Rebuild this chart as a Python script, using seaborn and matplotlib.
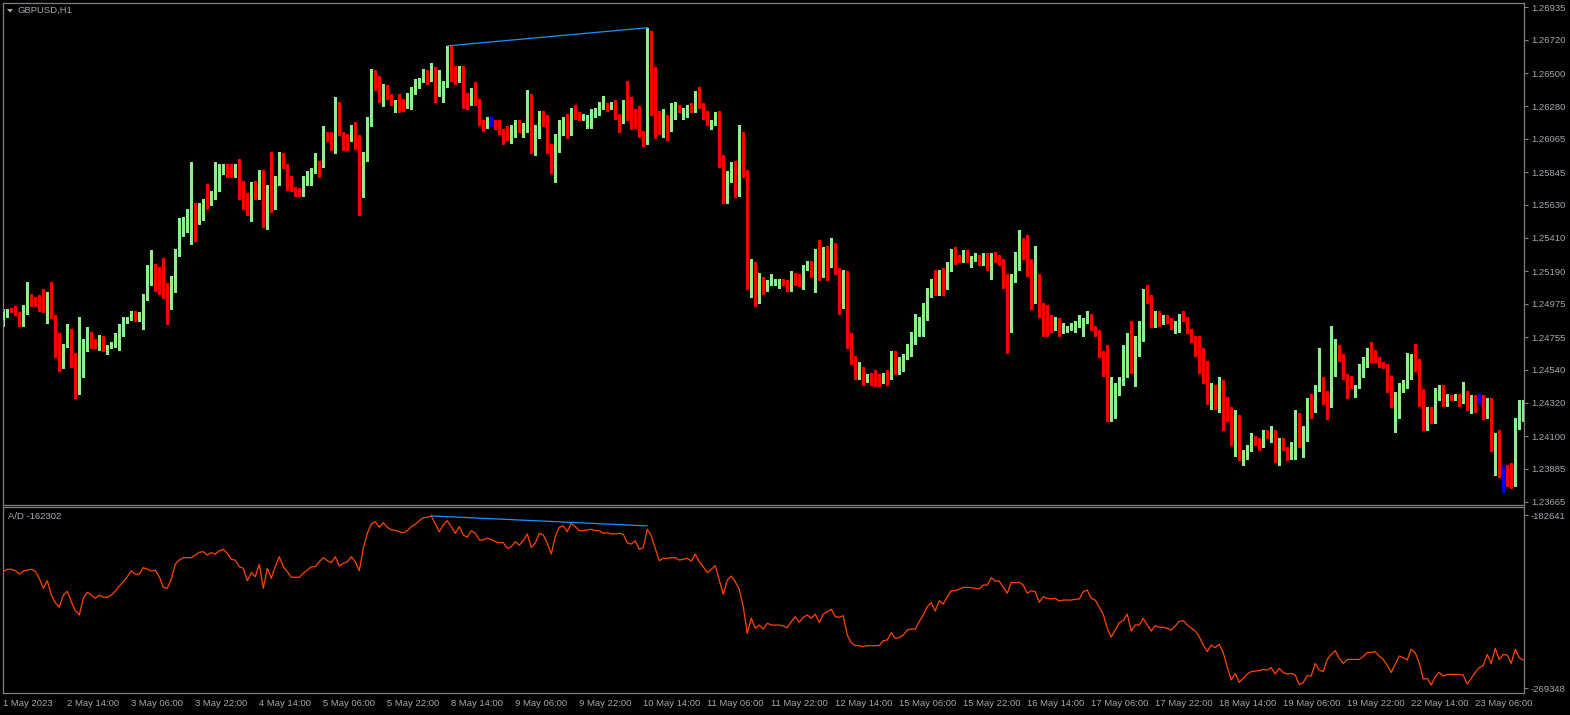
import numpy as np
import pandas as pd
import matplotlib
matplotlib.use("Agg")
import matplotlib.pyplot as plt
from matplotlib.patches import Polygon
import seaborn as sns

# GBPUSD H1 candles (one value per hourly bar)
opens = [
    1.2487, 1.2490, 1.2494, 1.2493, 1.2492, 1.2484, 1.2491, 1.2503, 1.2501, 1.2497,
    1.2496, 1.2493, 1.2503, 1.2489, 1.2471, 1.2461, 1.2470, 1.2480, 1.2458, 1.2443,
    1.2459, 1.2472, 1.2478, 1.2471, 1.2469, 1.2475, 1.2465, 1.2469, 1.2470, 1.2477,
    1.2481, 1.2486, 1.2488, 1.2492, 1.2487, 1.2489, 1.2501, 1.2511, 1.2519, 1.2517,
    1.2506, 1.2502, 1.2497, 1.2513, 1.2530, 1.2545, 1.2550, 1.2551, 1.2563, 1.2551,
    1.2554, 1.2566, 1.2565, 1.2568, 1.2576, 1.2584, 1.2587, 1.2584, 1.2582, 1.2585,
    1.2573, 1.2569, 1.2557, 1.2572, 1.2568, 1.2585, 1.2553, 1.2572, 1.2571, 1.2577,
    1.2595, 1.2589, 1.2579, 1.2573, 1.2573, 1.2571, 1.2581, 1.2583, 1.2585, 1.2591,
    1.2589, 1.2610, 1.2606, 1.2602, 1.2627, 1.2610, 1.2607, 1.2606, 1.2614, 1.2606,
    1.2571, 1.2597, 1.2616, 1.2648, 1.2647, 1.2634, 1.2641, 1.2635, 1.2628, 1.2630,
    1.2628, 1.2628, 1.2634, 1.2639, 1.2642, 1.2645, 1.2651, 1.2648, 1.2651, 1.2636,
    1.2637, 1.2642, 1.2663, 1.2651, 1.2645, 1.2653, 1.2632, 1.2630, 1.2639, 1.2632,
    1.2618, 1.2615, 1.2616, 1.2616, 1.2616, 1.2612, 1.2609, 1.2607, 1.2612, 1.2618,
    1.2612, 1.2614, 1.2635, 1.2602, 1.2608, 1.2624, 1.2620, 1.2601, 1.2586, 1.2608,
    1.2616, 1.2616, 1.2611, 1.2626, 1.2623, 1.2620, 1.2616, 1.2617, 1.2622, 1.2623,
    1.2627, 1.2629, 1.2627, 1.2631, 1.2622, 1.2618, 1.2626, 1.2623, 1.2622, 1.2622,
    1.2610, 1.2607, 1.2674, 1.2637, 1.2618, 1.2611, 1.2621, 1.2613, 1.2622, 1.2626,
    1.2621, 1.2622, 1.2628, 1.2625, 1.2637, 1.2629, 1.2622, 1.2617, 1.2617, 1.2623,
    1.2590, 1.2565, 1.2583, 1.2588, 1.2570, 1.2586, 1.2585, 1.2508, 1.2524, 1.2499,
    1.2513, 1.2507, 1.2511, 1.2511, 1.2509, 1.2513, 1.2512, 1.2507, 1.2517, 1.2516,
    1.2511, 1.2521, 1.2524, 1.2516, 1.2526, 1.2516, 1.2532, 1.2527, 1.2534, 1.2519,
    1.2505, 1.2510, 1.2470, 1.2462, 1.2451, 1.2455, 1.2447, 1.2451, 1.2453, 1.2450,
    1.2447, 1.2450, 1.2449, 1.2465, 1.2452, 1.2457, 1.2462, 1.2470, 1.2472, 1.2481,
    1.2487, 1.2493, 1.2506, 1.2511, 1.2507, 1.2517, 1.2508, 1.2523, 1.2532, 1.2529,
    1.2528, 1.2532, 1.2523, 1.2527, 1.2529, 1.2524, 1.2530, 1.2524, 1.2530, 1.2527,
    1.2526, 1.2510, 1.2480, 1.2513, 1.2521, 1.2535, 1.2533, 1.2518, 1.2513, 1.2515,
    1.2496, 1.2492, 1.2486, 1.2483, 1.2486, 1.2479, 1.2480, 1.2481, 1.2483, 1.2484,
    1.2485, 1.2487, 1.2490, 1.2481, 1.2478, 1.2464, 1.2453, 1.2421, 1.2426, 1.2441,
    1.2448, 1.2460, 1.2470, 1.2453, 1.2465, 1.2474, 1.2504, 1.2502, 1.2483, 1.2492,
    1.2485, 1.2487, 1.2487, 1.2482, 1.2484, 1.2489, 1.2487, 1.2480, 1.2474, 1.2468,
    1.2460, 1.2450, 1.2437, 1.2443, 1.2433, 1.2443, 1.2424, 1.2422, 1.2406, 1.2421,
    1.2395, 1.2398, 1.2402, 1.2409, 1.2408, 1.2404, 1.2413, 1.2411, 1.2413, 1.2397,
    1.2407, 1.2402, 1.2396, 1.2402, 1.2410, 1.2406, 1.2408, 1.2431, 1.2430, 1.2443,
    1.2448, 1.2439, 1.2436, 1.2460, 1.2467, 1.2463, 1.2450, 1.2449, 1.2437, 1.2443,
    1.2450, 1.2460, 1.2467, 1.2466, 1.2461, 1.2458, 1.2457, 1.2441, 1.2432, 1.2433,
    1.2441, 1.2443, 1.2449, 1.2463, 1.2460, 1.2435, 1.2419, 1.2422, 1.2420, 1.2439,
    1.2443, 1.2431, 1.2436, 1.2435, 1.2437, 1.2433, 1.2439, 1.2428, 1.2436, 1.2436,
    1.2436, 1.2430, 1.2434, 1.2409, 1.2409, 1.2385, 1.2386, 1.2384, 1.2378, 1.2416,
    1.2421,
]
highs = [
    1.2494, 1.2494, 1.2495, 1.2496, 1.2492, 1.2497, 1.2512, 1.2504, 1.2502, 1.2503,
    1.2507, 1.2505, 1.2512, 1.2490, 1.2478, 1.2471, 1.2484, 1.2481, 1.2465, 1.2489,
    1.2474, 1.2482, 1.2479, 1.2474, 1.2477, 1.2476, 1.2470, 1.2472, 1.2478, 1.2484,
    1.2489, 1.2489, 1.2493, 1.2493, 1.2492, 1.2504, 1.2523, 1.2533, 1.2524, 1.2522,
    1.2528, 1.2511, 1.2516, 1.2534, 1.2554, 1.2555, 1.2560, 1.2591, 1.2564, 1.2564,
    1.2567, 1.2577, 1.2572, 1.2591, 1.2590, 1.2590, 1.2590, 1.2590, 1.2590, 1.2593,
    1.2579, 1.2571, 1.2578, 1.2579, 1.2586, 1.2586, 1.2576, 1.2598, 1.2582, 1.2598,
    1.2597, 1.2590, 1.2582, 1.2575, 1.2574, 1.2582, 1.2585, 1.2587, 1.2597, 1.2592,
    1.2615, 1.2611, 1.2611, 1.2634, 1.2631, 1.2611, 1.2610, 1.2616, 1.2618, 1.2609,
    1.2598, 1.2621, 1.2653, 1.2652, 1.2648, 1.2643, 1.2642, 1.2636, 1.2632, 1.2636,
    1.2633, 1.2637, 1.2641, 1.2646, 1.2647, 1.2653, 1.2652, 1.2657, 1.2654, 1.2652,
    1.2645, 1.2668, 1.2668, 1.2655, 1.2655, 1.2655, 1.2637, 1.2640, 1.2644, 1.2633,
    1.2619, 1.2621, 1.2621, 1.2619, 1.2619, 1.2613, 1.2615, 1.2616, 1.2619, 1.2619,
    1.2617, 1.2639, 1.2636, 1.2616, 1.2625, 1.2625, 1.2622, 1.2603, 1.2610, 1.2619,
    1.2621, 1.2623, 1.2627, 1.2629, 1.2624, 1.2623, 1.2622, 1.2626, 1.2627, 1.2631,
    1.2635, 1.2630, 1.2631, 1.2632, 1.2623, 1.2632, 1.2645, 1.2634, 1.2626, 1.2628,
    1.2612, 1.2680, 1.2678, 1.2654, 1.2625, 1.2626, 1.2622, 1.2630, 1.2631, 1.2629,
    1.2627, 1.2629, 1.2630, 1.2638, 1.2641, 1.2630, 1.2625, 1.2619, 1.2624, 1.2625,
    1.2596, 1.2585, 1.2591, 1.2592, 1.2616, 1.2611, 1.2586, 1.2527, 1.2525, 1.2518,
    1.2515, 1.2513, 1.2517, 1.2514, 1.2514, 1.2514, 1.2513, 1.2519, 1.2518, 1.2517,
    1.2523, 1.2526, 1.2526, 1.2534, 1.2540, 1.2535, 1.2536, 1.2541, 1.2538, 1.2521,
    1.2520, 1.2519, 1.2478, 1.2463, 1.2459, 1.2456, 1.2451, 1.2452, 1.2454, 1.2451,
    1.2452, 1.2454, 1.2466, 1.2466, 1.2462, 1.2464, 1.2471, 1.2479, 1.2491, 1.2489,
    1.2498, 1.2508, 1.2514, 1.2520, 1.2520, 1.2521, 1.2525, 1.2534, 1.2535, 1.2530,
    1.2533, 1.2533, 1.2529, 1.2531, 1.2530, 1.2531, 1.2531, 1.2531, 1.2532, 1.2530,
    1.2527, 1.2517, 1.2517, 1.2532, 1.2546, 1.2541, 1.2543, 1.2527, 1.2536, 1.2517,
    1.2498, 1.2497, 1.2490, 1.2489, 1.2488, 1.2485, 1.2483, 1.2485, 1.2486, 1.2490,
    1.2488, 1.2493, 1.2491, 1.2483, 1.2480, 1.2466, 1.2470, 1.2449, 1.2445, 1.2449,
    1.2470, 1.2478, 1.2486, 1.2476, 1.2486, 1.2507, 1.2510, 1.2503, 1.2493, 1.2493,
    1.2490, 1.2490, 1.2488, 1.2486, 1.2491, 1.2493, 1.2489, 1.2481, 1.2476, 1.2476,
    1.2468, 1.2460, 1.2445, 1.2444, 1.2449, 1.2447, 1.2436, 1.2429, 1.2427, 1.2424,
    1.2401, 1.2404, 1.2412, 1.2410, 1.2409, 1.2414, 1.2414, 1.2417, 1.2414, 1.2409,
    1.2409, 1.2403, 1.2406, 1.2427, 1.2425, 1.2417, 1.2435, 1.2438, 1.2444, 1.2468,
    1.2449, 1.2440, 1.2483, 1.2474, 1.2470, 1.2464, 1.2451, 1.2450, 1.2444, 1.2458,
    1.2462, 1.2468, 1.2472, 1.2467, 1.2462, 1.2459, 1.2458, 1.2450, 1.2439, 1.2445,
    1.2447, 1.2465, 1.2464, 1.2471, 1.2461, 1.2441, 1.2429, 1.2429, 1.2442, 1.2444,
    1.2444, 1.2438, 1.2437, 1.2438, 1.2438, 1.2446, 1.2440, 1.2437, 1.2437, 1.2438,
    1.2437, 1.2435, 1.2435, 1.2412, 1.2414, 1.2390, 1.2391, 1.2392, 1.2422, 1.2434,
    1.2434,
]
lows = [
    1.2483, 1.2489, 1.2492, 1.2490, 1.2483, 1.2483, 1.2491, 1.2496, 1.2496, 1.2493,
    1.2492, 1.2485, 1.2488, 1.2462, 1.2453, 1.2455, 1.2469, 1.2456, 1.2435, 1.2438,
    1.2449, 1.2466, 1.2468, 1.2468, 1.2467, 1.2466, 1.2464, 1.2468, 1.2469, 1.2467,
    1.2476, 1.2485, 1.2487, 1.2486, 1.2486, 1.2481, 1.2500, 1.2510, 1.2506, 1.2504,
    1.2501, 1.2484, 1.2494, 1.2505, 1.2529, 1.2542, 1.2545, 1.2537, 1.2539, 1.2550,
    1.2553, 1.2560, 1.2563, 1.2567, 1.2572, 1.2583, 1.2581, 1.2581, 1.2581, 1.2567,
    1.2560, 1.2556, 1.2552, 1.2567, 1.2567, 1.2548, 1.2547, 1.2558, 1.2560, 1.2576,
    1.2587, 1.2573, 1.2572, 1.2569, 1.2569, 1.2569, 1.2576, 1.2576, 1.2584, 1.2581,
    1.2588, 1.2605, 1.2599, 1.2597, 1.2609, 1.2599, 1.2599, 1.2605, 1.2600, 1.2556,
    1.2568, 1.2592, 1.2615, 1.2639, 1.2631, 1.2628, 1.2633, 1.2629, 1.2624, 1.2624,
    1.2625, 1.2627, 1.2626, 1.2636, 1.2640, 1.2644, 1.2643, 1.2645, 1.2631, 1.2635,
    1.2631, 1.2641, 1.2645, 1.2643, 1.2644, 1.2627, 1.2626, 1.2629, 1.2629, 1.2616,
    1.2612, 1.2614, 1.2615, 1.2613, 1.2610, 1.2603, 1.2606, 1.2604, 1.2608, 1.2611,
    1.2608, 1.2611, 1.2597, 1.2596, 1.2607, 1.2615, 1.2597, 1.2584, 1.2578, 1.2598,
    1.2609, 1.2607, 1.2609, 1.2620, 1.2619, 1.2619, 1.2614, 1.2614, 1.2621, 1.2622,
    1.2626, 1.2625, 1.2626, 1.2620, 1.2611, 1.2617, 1.2619, 1.2613, 1.2614, 1.2608,
    1.2602, 1.2603, 1.2622, 1.2607, 1.2610, 1.2608, 1.2606, 1.2612, 1.2620, 1.2624,
    1.2620, 1.2621, 1.2624, 1.2624, 1.2627, 1.2620, 1.2616, 1.2613, 1.2616, 1.2588,
    1.2564, 1.2564, 1.2578, 1.2568, 1.2569, 1.2581, 1.2507, 1.2502, 1.2496, 1.2498,
    1.2504, 1.2506, 1.2510, 1.2510, 1.2508, 1.2510, 1.2506, 1.2506, 1.2510, 1.2509,
    1.2507, 1.2520, 1.2515, 1.2505, 1.2513, 1.2515, 1.2513, 1.2522, 1.2517, 1.2491,
    1.2495, 1.2468, 1.2458, 1.2448, 1.2448, 1.2444, 1.2446, 1.2444, 1.2443, 1.2443,
    1.2445, 1.2444, 1.2448, 1.2451, 1.2451, 1.2453, 1.2461, 1.2463, 1.2471, 1.2476,
    1.2476, 1.2487, 1.2502, 1.2503, 1.2503, 1.2503, 1.2507, 1.2519, 1.2524, 1.2525,
    1.2525, 1.2525, 1.2522, 1.2526, 1.2523, 1.2523, 1.2520, 1.2514, 1.2525, 1.2523,
    1.2508, 1.2465, 1.2479, 1.2512, 1.2520, 1.2527, 1.2516, 1.2494, 1.2498, 1.2489,
    1.2476, 1.2476, 1.2479, 1.2480, 1.2476, 1.2478, 1.2479, 1.2480, 1.2479, 1.2482,
    1.2476, 1.2485, 1.2480, 1.2476, 1.2462, 1.2450, 1.2420, 1.2420, 1.2422, 1.2437,
    1.2444, 1.2449, 1.2452, 1.2443, 1.2463, 1.2473, 1.2498, 1.2482, 1.2482, 1.2483,
    1.2484, 1.2485, 1.2481, 1.2478, 1.2479, 1.2486, 1.2478, 1.2472, 1.2463, 1.2452,
    1.2445, 1.2431, 1.2428, 1.2428, 1.2426, 1.2414, 1.2420, 1.2404, 1.2397, 1.2394,
    1.2391, 1.2395, 1.2400, 1.2404, 1.2401, 1.2403, 1.2409, 1.2406, 1.2393, 1.2391,
    1.2401, 1.2394, 1.2395, 1.2395, 1.2403, 1.2396, 1.2407, 1.2422, 1.2426, 1.2440,
    1.2431, 1.2421, 1.2429, 1.2450, 1.2460, 1.2448, 1.2435, 1.2442, 1.2436, 1.2442,
    1.2449, 1.2456, 1.2459, 1.2459, 1.2456, 1.2455, 1.2439, 1.2429, 1.2413, 1.2422,
    1.2439, 1.2442, 1.2448, 1.2453, 1.2430, 1.2414, 1.2414, 1.2419, 1.2419, 1.2434,
    1.2430, 1.2430, 1.2434, 1.2434, 1.2430, 1.2432, 1.2427, 1.2425, 1.2426, 1.2432,
    1.2421, 1.2422, 1.2400, 1.2384, 1.2383, 1.2373, 1.2377, 1.2376, 1.2377, 1.2415,
    1.2420,
]
closes = [
    1.2492, 1.2493, 1.2493, 1.2491, 1.2484, 1.2492, 1.2503, 1.2500, 1.2497, 1.2496,
    1.2493, 1.2502, 1.2489, 1.2471, 1.2461, 1.2470, 1.2480, 1.2458, 1.2442, 1.2460,
    1.2473, 1.2478, 1.2471, 1.2469, 1.2475, 1.2467, 1.2469, 1.2470, 1.2477, 1.2482,
    1.2487, 1.2488, 1.2492, 1.2487, 1.2489, 1.2501, 1.2511, 1.2520, 1.2516, 1.2505,
    1.2502, 1.2496, 1.2513, 1.2531, 1.2545, 1.2550, 1.2554, 1.2563, 1.2551, 1.2563,
    1.2566, 1.2565, 1.2569, 1.2577, 1.2585, 1.2587, 1.2583, 1.2582, 1.2586, 1.2573,
    1.2569, 1.2557, 1.2572, 1.2568, 1.2585, 1.2552, 1.2572, 1.2571, 1.2577, 1.2595,
    1.2588, 1.2578, 1.2573, 1.2572, 1.2571, 1.2581, 1.2583, 1.2585, 1.2591, 1.2589,
    1.2610, 1.2606, 1.2602, 1.2627, 1.2610, 1.2606, 1.2606, 1.2614, 1.2605, 1.2571,
    1.2597, 1.2616, 1.2648, 1.2647, 1.2634, 1.2641, 1.2634, 1.2630, 1.2630, 1.2627,
    1.2627, 1.2634, 1.2640, 1.2642, 1.2645, 1.2651, 1.2648, 1.2651, 1.2636, 1.2638,
    1.2643, 1.2663, 1.2650, 1.2645, 1.2653, 1.2631, 1.2630, 1.2639, 1.2631, 1.2618,
    1.2615, 1.2620, 1.2616, 1.2615, 1.2611, 1.2608, 1.2607, 1.2612, 1.2618, 1.2612,
    1.2615, 1.2635, 1.2601, 1.2609, 1.2624, 1.2618, 1.2600, 1.2586, 1.2608, 1.2616,
    1.2617, 1.2611, 1.2626, 1.2622, 1.2620, 1.2622, 1.2618, 1.2623, 1.2624, 1.2628,
    1.2628, 1.2627, 1.2630, 1.2621, 1.2618, 1.2626, 1.2622, 1.2622, 1.2621, 1.2609,
    1.2607, 1.2673, 1.2637, 1.2617, 1.2611, 1.2621, 1.2613, 1.2622, 1.2626, 1.2625,
    1.2623, 1.2628, 1.2625, 1.2637, 1.2628, 1.2621, 1.2617, 1.2618, 1.2623, 1.2589,
    1.2565, 1.2583, 1.2588, 1.2570, 1.2586, 1.2585, 1.2508, 1.2524, 1.2499, 1.2513,
    1.2507, 1.2512, 1.2512, 1.2513, 1.2511, 1.2511, 1.2507, 1.2518, 1.2516, 1.2510,
    1.2522, 1.2524, 1.2517, 1.2526, 1.2516, 1.2532, 1.2527, 1.2534, 1.2519, 1.2505,
    1.2510, 1.2470, 1.2462, 1.2451, 1.2455, 1.2447, 1.2450, 1.2447, 1.2447, 1.2447,
    1.2451, 1.2449, 1.2465, 1.2452, 1.2457, 1.2463, 1.2470, 1.2473, 1.2481, 1.2488,
    1.2494, 1.2507, 1.2511, 1.2507, 1.2517, 1.2508, 1.2524, 1.2533, 1.2529, 1.2528,
    1.2532, 1.2526, 1.2527, 1.2529, 1.2524, 1.2530, 1.2524, 1.2530, 1.2526, 1.2526,
    1.2509, 1.2480, 1.2514, 1.2522, 1.2535, 1.2532, 1.2517, 1.2513, 1.2515, 1.2496,
    1.2492, 1.2484, 1.2483, 1.2486, 1.2480, 1.2483, 1.2482, 1.2483, 1.2485, 1.2486,
    1.2487, 1.2490, 1.2481, 1.2477, 1.2463, 1.2453, 1.2421, 1.2427, 1.2442, 1.2448,
    1.2460, 1.2470, 1.2453, 1.2465, 1.2474, 1.2504, 1.2501, 1.2483, 1.2492, 1.2485,
    1.2487, 1.2486, 1.2482, 1.2485, 1.2489, 1.2487, 1.2480, 1.2474, 1.2468, 1.2459,
    1.2450, 1.2437, 1.2443, 1.2433, 1.2443, 1.2424, 1.2421, 1.2406, 1.2421, 1.2395,
    1.2398, 1.2403, 1.2409, 1.2407, 1.2404, 1.2413, 1.2411, 1.2413, 1.2397, 1.2407,
    1.2402, 1.2396, 1.2402, 1.2410, 1.2406, 1.2408, 1.2431, 1.2430, 1.2443, 1.2449,
    1.2438, 1.2436, 1.2461, 1.2467, 1.2461, 1.2449, 1.2448, 1.2445, 1.2443, 1.2451,
    1.2461, 1.2467, 1.2465, 1.2460, 1.2457, 1.2456, 1.2440, 1.2432, 1.2433, 1.2441,
    1.2444, 1.2449, 1.2463, 1.2459, 1.2435, 1.2419, 1.2422, 1.2420, 1.2439, 1.2443,
    1.2431, 1.2437, 1.2435, 1.2437, 1.2433, 1.2439, 1.2428, 1.2436, 1.2435, 1.2436,
    1.2430, 1.2434, 1.2409, 1.2410, 1.2385, 1.2385, 1.2383, 1.2378, 1.2416, 1.2421,
    1.2428,
]

# Accumulation/Distribution indicator, one value per bar
ad_values = [
    -211000, -209800, -209800, -210500, -212200, -210700, -210200, -209800, -210800, -214300,
    -219300, -215500, -222700, -226500, -228800, -222700, -220800, -226000, -230500, -232700,
    -224300, -221300, -222700, -224300, -222700, -223800, -223800, -222700, -220700, -218200,
    -216000, -213500, -210500, -212300, -212200, -209000, -209700, -210700, -210300, -213500,
    -218800, -219300, -214700, -207200, -205200, -204000, -204000, -204000, -202700, -201300,
    -201000, -202700, -201500, -202200, -200500, -199800, -201800, -204800, -205200, -208500,
    -209300, -215500, -211500, -213500, -207300, -219300, -209300, -214300, -208500, -203500,
    -208500, -211000, -213800, -213800, -213800, -211800, -210200, -208500, -208500, -206000,
    -204000, -205500, -206500, -203500, -208200, -206800, -206000, -203500, -206000, -210500,
    -199300, -191800, -187100, -186000, -188800, -186500, -188800, -190100, -190300, -191000,
    -191600, -190500, -188500, -187300, -185500, -184000, -183800, -183100, -187100, -191000,
    -187600, -185500, -188500, -191800, -188500, -192600, -193800, -190500, -191800, -195100,
    -195100, -194300, -194800, -196000, -196500, -196500, -199300, -198500, -196000, -197700,
    -195500, -192100, -198800, -196800, -191800, -192600, -196800, -202200, -193500, -188800,
    -188100, -191000, -186800, -188500, -190500, -190500, -190100, -189800, -190500, -190500,
    -191800, -191500, -192100, -192100, -191800, -192300, -196500, -197200, -195500, -199800,
    -199000, -189800, -193100, -199300, -205500, -204300, -204300, -204000, -204000, -205200,
    -204800, -204300, -205700, -202200, -206000, -208500, -211500, -209800, -208000, -215200,
    -222300, -215200, -213200, -216000, -219800, -228500, -241800, -234300, -239300, -237700,
    -239800, -236800, -237700, -237700, -237700, -238200, -239000, -236000, -233500, -236300,
    -233800, -232700, -234300, -232200, -236500, -232200, -231000, -229800, -233500, -233800,
    -233000, -242700, -246500, -248000, -248000, -248500, -248000, -248000, -248000, -248000,
    -245500, -245200, -241500, -244300, -244000, -242700, -240200, -239700, -239700, -236000,
    -232700, -228500, -226500, -230700, -225500, -227200, -223500, -220500, -220500, -219700,
    -218800, -218800, -219000, -219300, -219700, -217700, -217700, -214000, -215700, -215700,
    -218800, -221800, -216300, -216500, -216300, -217700, -221800, -220500, -221000, -226300,
    -223500, -224300, -224700, -224300, -225700, -225200, -225200, -225200, -224800, -224700,
    -221000, -220200, -224300, -225200, -228800, -232300, -239300, -243800, -240200, -236500,
    -235500, -232200, -240700, -237700, -237700, -234300, -237700, -240700, -238000, -238800,
    -238800, -239300, -240200, -238200, -235800, -235500, -237700, -239200, -240700, -243500,
    -247700, -251000, -247700, -249000, -247300, -251500, -258500, -265200, -261900, -266400,
    -264400, -262200, -261000, -260700, -260500, -259900, -260200, -259000, -262200, -259400,
    -261500, -262200, -261900, -262700, -267400, -266500, -263000, -263200, -256900, -260200,
    -261000, -254900, -252400, -250500, -254400, -256900, -254900, -254900, -254900, -254900,
    -253500, -251400, -251400, -251000, -253200, -254900, -257700, -261400, -257400, -253200,
    -254000, -255200, -249800, -251500, -256500, -264700, -264400, -267700, -263500, -261400,
    -263200, -262400, -262400, -262400, -262400, -262700, -267200, -264400, -261400, -259000,
    -258000, -252400, -256900, -249300, -254900, -252400, -252700, -256900, -249800, -254000,
    -255200,
]

time_labels = [
    "1 May 2023", "2 May 14:00", "3 May 06:00", "3 May 22:00", "4 May 14:00",
    "5 May 06:00", "5 May 22:00", "8 May 14:00", "9 May 06:00", "9 May 22:00",
    "10 May 14:00", "11 May 06:00", "11 May 22:00", "12 May 14:00", "15 May 06:00",
    "15 May 22:00", "16 May 14:00", "17 May 06:00", "17 May 22:00", "18 May 14:00",
    "19 May 06:00", "19 May 22:00", "22 May 14:00", "23 May 06:00",
]
price_ticks = [1.26935, 1.26720, 1.26500, 1.26280, 1.26065, 1.25845, 1.25630, 1.25410,
               1.25190, 1.24975, 1.24755, 1.24540, 1.24320, 1.24100, 1.23885, 1.23665]
ad_ticks = [-182641, -269348]

# manual trendlines (bar index, value)
price_trend_bars = [111, 161]
price_trend_vals = [1.2668, 1.2680]
ad_trend_bars = [107, 161]
ad_trend_vals = [-183100, -188100]

symbol_label = "GBPUSD,H1"
ad_label = "A/D -162302"

# ---------------------------------------------------------------
BULL = "#90ee90"
BEAR = "#ff0000"
DOJI = "#0000ff"
AD_COLOR = "#ff4500"
TREND = "#1e90ff"
FRAME = "#808080"
TEXT = "#a3a9b0"

sns.set_style("dark", {"axes.facecolor": "black", "figure.facecolor": "black"})
plt.rcParams["font.family"] = ["Liberation Sans", "DejaVu Sans"]

df = pd.DataFrame({"open": opens, "high": highs, "low": lows, "close": closes, "ad": ad_values})
df["bar"] = np.arange(len(df))
df["color"] = np.where(df["close"] > df["open"], BULL,
                       np.where(df["close"] < df["open"], BEAR, DOJI))

W, H = 1570, 715
fig = plt.figure(figsize=(W / 100, H / 100), dpi=100)
fig.patch.set_facecolor("black")


def box(x0, y0, x1, y1):
    return [x0 / W, 1 - y1 / H, (x1 - x0) / W, (y1 - y0) / H]


ax_p = fig.add_axes(box(2.5, 2.5, 1524, 504.5))
ax_a = fig.add_axes(box(2.5, 506.5, 1524, 692.5))

for ax in (ax_p, ax_a):
    ax.set_facecolor("black")
    for s in ax.spines.values():
        s.set_color(FRAME)
        s.set_linewidth(0.9)
        s.set_visible(True)
    ax.set_xlim(-0.2, 380.2)
    ax.grid(False)

# ---- candles
min_h = 0.00007
body_h = (df["close"] - df["open"]).abs()
body_bot = df[["open", "close"]].min(axis=1)
draw_h = np.maximum(body_h, min_h)
draw_bot = body_bot - (draw_h - body_h) / 2
ax_p.vlines(df["bar"], df["low"], df["high"], colors=df["color"], linewidth=0.8,
            antialiased=False, zorder=2)
ax_p.bar(df["bar"], draw_h, bottom=draw_bot, width=0.72, color=df["color"],
         linewidth=0, antialiased=False, zorder=3)
ax_p.plot(price_trend_bars, price_trend_vals, color=TREND, linewidth=0.9, zorder=4)

ax_p.set_ylim(1.23648, 1.26967)
ax_p.yaxis.tick_right()
ax_p.set_yticks(price_ticks)
ax_p.set_yticklabels([f"{v:.5f}" for v in price_ticks])
ax_p.set_xticks([])
ax_p.tick_params(axis="y", colors=FRAME, labelcolor=TEXT, labelsize=6.8,
                 length=3, width=0.8, pad=2, direction="out")

# ---- A/D
sns.lineplot(data=df, x="bar", y="ad", ax=ax_a, color=AD_COLOR, linewidth=0.9,
             legend=False, zorder=3)
ax_a.plot(ad_trend_bars, ad_trend_vals, color=TREND, linewidth=0.9, zorder=4)
ax_a.set_ylim(-271444, -178388)
ax_a.yaxis.tick_right()
ax_a.set_yticks(ad_ticks)
ax_a.set_yticklabels([str(v) for v in ad_ticks])
ax_a.set_xticks(np.arange(0, 16 * len(time_labels), 16))
ax_a.set_xticklabels(time_labels)
for lbl in ax_a.get_xticklabels():
    lbl.set_ha("left")
ax_a.tick_params(axis="both", colors=FRAME, labelcolor=TEXT, labelsize=6.8,
                 length=3, width=0.8, pad=2, direction="out")
ax_a.set_xlabel("")
ax_a.set_ylabel("")

# ---- panel captions
fig.text(18 / W, 1 - 10.5 / H, symbol_label, color=TEXT, fontsize=6.8, va="center", ha="left")
fig.patches.append(Polygon([[7 / W, 1 - 9 / H], [13 / W, 1 - 9 / H], [10 / W, 1 - 12.5 / H]],
                           closed=True, transform=fig.transFigure, color=TEXT, linewidth=0))
fig.text(8 / W, 1 - 516.5 / H, ad_label, color=TEXT, fontsize=6.8, va="center", ha="left")

fig.savefig("out.png", dpi=100, facecolor="black")
